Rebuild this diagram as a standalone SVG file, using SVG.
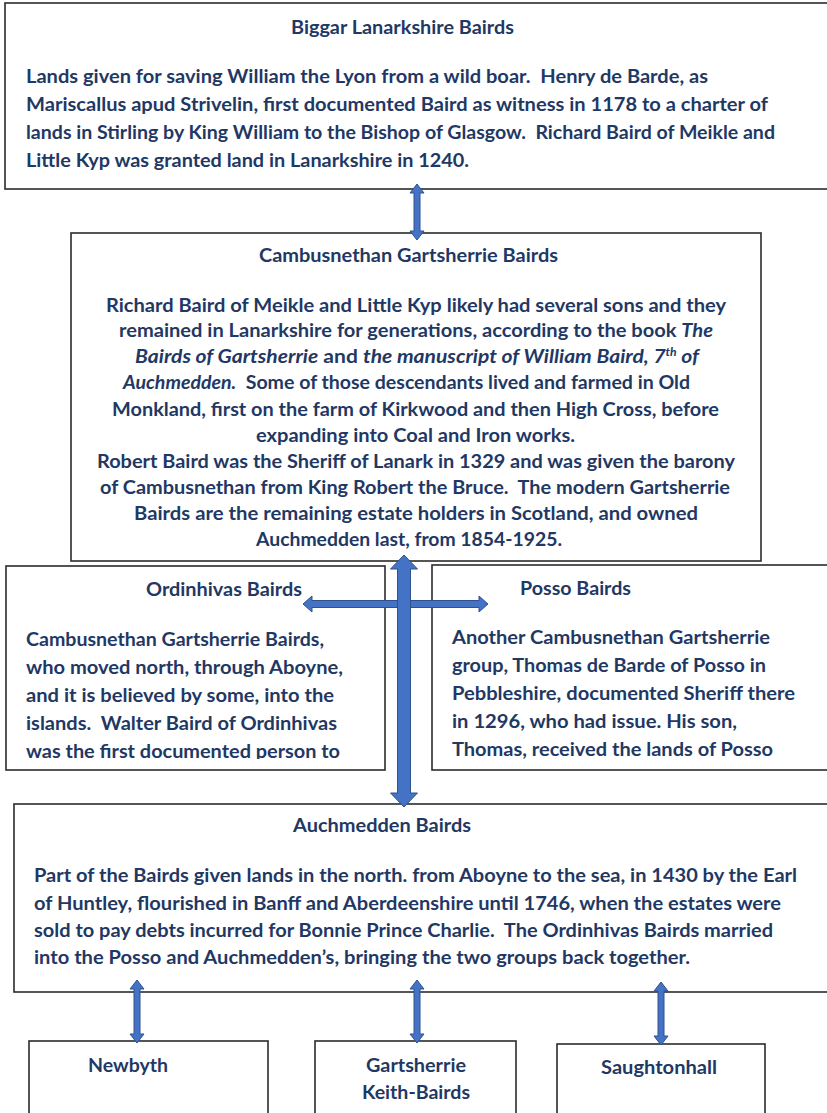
<svg xmlns="http://www.w3.org/2000/svg" width="827" height="1113" viewBox="0 0 827 1113">
<style>
.box{fill:#ffffff;stroke:#2b2b2b;stroke-width:1.6}
.t{font-family:Lato,"Liberation Sans",sans-serif;font-weight:bold;font-size:19px;fill:#1F3864;white-space:pre}
.i{font-style:italic}
.arr{fill:#4472C4;stroke:#2F528F;stroke-width:1}
</style>
<defs>
<clipPath id="clipOrd"><rect x="6" y="566" width="380" height="193"/></clipPath>
<clipPath id="clipPos"><rect x="432" y="565" width="400" height="196"/></clipPath>
</defs>
<rect width="827" height="1113" fill="#ffffff"/>

<g id="node-biggar">
<rect class="box" x="5" y="3" width="830" height="186"/>
<text class="t" x="291" y="34" textLength="223" lengthAdjust="spacingAndGlyphs">Biggar Lanarkshire Bairds</text>
<text class="t" x="26" y="83" textLength="682" lengthAdjust="spacingAndGlyphs">Lands given for saving William the Lyon from a wild boar.  Henry de Barde, as</text>
<text class="t" x="26" y="111" textLength="742" lengthAdjust="spacingAndGlyphs">Mariscallus apud Strivelin, first documented Baird as witness in 1178 to a charter of</text>
<text class="t" x="26" y="139" textLength="749" lengthAdjust="spacingAndGlyphs">lands in Stirling by King William to the Bishop of Glasgow.  Richard Baird of Meikle and</text>
<text class="t" x="26" y="167" textLength="443" lengthAdjust="spacingAndGlyphs">Little Kyp was granted land in Lanarkshire in 1240.</text>
</g>

<g id="node-cambusnethan">
<rect class="box" x="71" y="233" width="690" height="328"/>
<text class="t" x="259" y="262" textLength="299" lengthAdjust="spacingAndGlyphs">Cambusnethan Gartsherrie Bairds</text>
<text class="t" x="106" y="312" textLength="620" lengthAdjust="spacingAndGlyphs">Richard Baird of Meikle and Little Kyp likely had several sons and they</text>
<text class="t" x="119" y="337" textLength="594" lengthAdjust="spacingAndGlyphs">remained in Lanarkshire for generations, according to the book <tspan class="i">The</tspan></text>
<text class="t" x="135" y="363" textLength="564" lengthAdjust="spacingAndGlyphs"><tspan class="i">Bairds of Gartsherrie</tspan> and <tspan class="i">the manuscript of William Baird, 7</tspan><tspan class="i" font-size="11" dy="-7">th</tspan><tspan class="i" dy="7"> of</tspan></text>
<text class="t" x="123" y="389" textLength="567" lengthAdjust="spacingAndGlyphs"><tspan class="i">Auchmedden.</tspan>  Some of those descendants lived and farmed in Old</text>
<text class="t" x="112" y="416" textLength="607" lengthAdjust="spacingAndGlyphs">Monkland, first on the farm of Kirkwood and then High Cross, before</text>
<text class="t" x="256" y="442" textLength="319" lengthAdjust="spacingAndGlyphs">expanding into Coal and Iron works.</text>
<text class="t" x="97" y="468" textLength="638" lengthAdjust="spacingAndGlyphs">Robert Baird was the Sheriff of Lanark in 1329 and was given the barony</text>
<text class="t" x="100" y="494" textLength="630" lengthAdjust="spacingAndGlyphs">of Cambusnethan from King Robert the Bruce.  The modern Gartsherrie</text>
<text class="t" x="134" y="520" textLength="564" lengthAdjust="spacingAndGlyphs">Bairds are the remaining estate holders in Scotland, and owned</text>
<text class="t" x="256" y="546" textLength="306" lengthAdjust="spacingAndGlyphs">Auchmedden last, from 1854-1925.</text>
</g>

<g id="node-ordinhivas">
<rect class="box" x="6" y="566" width="379" height="204"/>
<g clip-path="url(#clipOrd)">
<text class="t" x="146" y="596" textLength="156" lengthAdjust="spacingAndGlyphs">Ordinhivas Bairds</text>
<text class="t" x="26" y="646" textLength="298" lengthAdjust="spacingAndGlyphs">Cambusnethan Gartsherrie Bairds,</text>
<text class="t" x="26" y="674" textLength="317" lengthAdjust="spacingAndGlyphs">who moved north, through Aboyne,</text>
<text class="t" x="26" y="702" textLength="308" lengthAdjust="spacingAndGlyphs">and it is believed by some, into the</text>
<text class="t" x="26" y="730" textLength="311" lengthAdjust="spacingAndGlyphs">islands.  Walter Baird of Ordinhivas</text>
<text class="t" x="26" y="758" textLength="314" lengthAdjust="spacingAndGlyphs">was the first documented person to</text>
</g>
</g>

<g id="node-posso">
<rect class="box" x="432" y="565" width="400" height="205"/>
<g clip-path="url(#clipPos)">
<text class="t" x="520" y="595" textLength="111" lengthAdjust="spacingAndGlyphs">Posso Bairds</text>
<text class="t" x="452" y="644" textLength="318" lengthAdjust="spacingAndGlyphs">Another Cambusnethan Gartsherrie</text>
<text class="t" x="452" y="672" textLength="314" lengthAdjust="spacingAndGlyphs">group, Thomas de Barde of Posso in</text>
<text class="t" x="452" y="700" textLength="343" lengthAdjust="spacingAndGlyphs">Pebbleshire, documented Sheriff there</text>
<text class="t" x="452" y="728" textLength="285" lengthAdjust="spacingAndGlyphs">in 1296, who had issue. His son,</text>
<text class="t" x="452" y="756" textLength="321" lengthAdjust="spacingAndGlyphs">Thomas, received the lands of Posso</text>
</g>
</g>

<g id="node-auchmedden">
<rect class="box" x="14" y="804" width="820" height="188"/>
<text class="t" x="293" y="832" textLength="178" lengthAdjust="spacingAndGlyphs">Auchmedden Bairds</text>
<text class="t" x="34" y="882" textLength="763" lengthAdjust="spacingAndGlyphs">Part of the Bairds given lands in the north. from Aboyne to the sea, in 1430 by the Earl</text>
<text class="t" x="34" y="910" textLength="747" lengthAdjust="spacingAndGlyphs">of Huntley, flourished in Banff and Aberdeenshire until 1746, when the estates were</text>
<text class="t" x="34" y="937" textLength="739" lengthAdjust="spacingAndGlyphs">sold to pay debts incurred for Bonnie Prince Charlie.  The Ordinhivas Bairds married</text>
<text class="t" x="34" y="964" textLength="656" lengthAdjust="spacingAndGlyphs">into the Posso and Auchmedden’s, bringing the two groups back together.</text>
</g>

<g id="node-newbyth">
<rect class="box" x="29" y="1041" width="239" height="80"/>
<text class="t" x="88" y="1072" textLength="80" lengthAdjust="spacingAndGlyphs">Newbyth</text>
</g>

<g id="node-gartsherrie">
<rect class="box" x="315" y="1041" width="201" height="80"/>
<text class="t" x="366" y="1072" textLength="100" lengthAdjust="spacingAndGlyphs">Gartsherrie</text>
<text class="t" x="362" y="1099" textLength="108" lengthAdjust="spacingAndGlyphs">Keith-Bairds</text>
</g>

<g id="node-saughtonhall">
<rect class="box" x="557" y="1044" width="208" height="80"/>
<text class="t" x="601" y="1074" textLength="116" lengthAdjust="spacingAndGlyphs">Saughtonhall</text>
</g>

<g id="connectors">
<path class="arr" d="M417,184 L424,193 L420,193 L420,231 L424,231 L417,240 L410,231 L414,231 L414,193 L410,193 Z"/>
<path class="arr" d="M303,604 L312,596 L312,600.5 L479,600.5 L479,596 L488,604 L479,612 L479,607.5 L312,607.5 L312,612 Z"/>
<path class="arr" d="M404,555 L417.5,569 L410.5,569 L410.5,793 L417.5,793 L404,807 L390.5,793 L397.5,793 L397.5,569 L390.5,569 Z"/>
<path class="arr" d="M137,980 L144,989 L140,989 L140,1034 L144,1034 L137,1043 L130,1034 L134,1034 L134,989 L130,989 Z"/>
<path class="arr" d="M417,980 L424,989 L420,989 L420,1034 L424,1034 L417,1043 L410,1034 L414,1034 L414,989 L410,989 Z"/>
<path class="arr" d="M661,982 L668,991 L664,991 L664,1036 L668,1036 L661,1045 L654,1036 L658,1036 L658,991 L654,991 Z"/>
</g>
</svg>
